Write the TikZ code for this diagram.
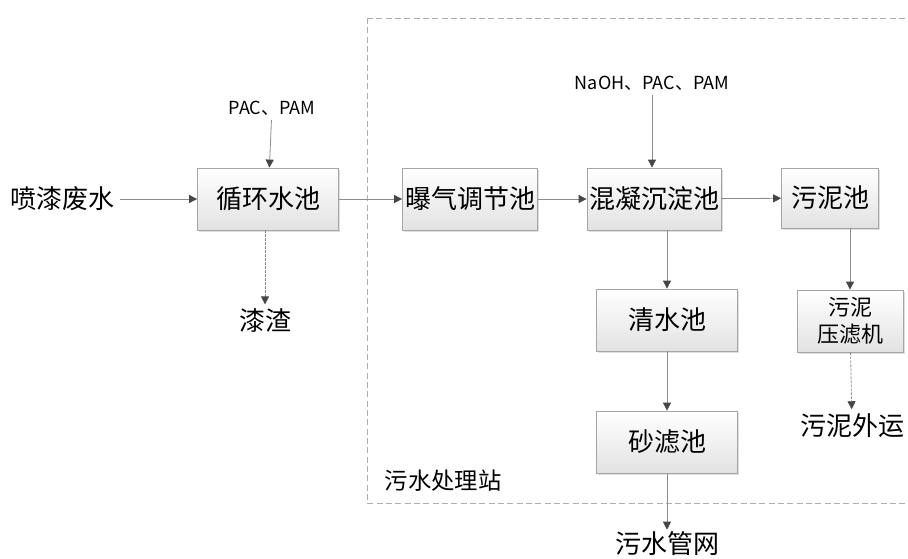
\documentclass[tikz,border=0pt]{standalone}
\usepackage{fontspec}
\setmainfont{Noto Sans CJK SC}
\usetikzlibrary{arrows.meta,shadows}

\definecolor{boxline}{RGB}{165,165,165}
\definecolor{boxbottom}{RGB}{226,226,226}
\definecolor{flowline}{RGB}{140,140,140}
\definecolor{tipgray}{RGB}{70,70,70}
\definecolor{framegray}{RGB}{175,175,175}

\tikzset{
	pool/.style={draw=boxline, line width=0.6pt, top color=white, bottom color=boxbottom,
		drop shadow={shadow xshift=1.2pt, shadow yshift=-1.2pt, opacity=0.25},
		minimum height=46.5pt, inner sep=0pt, font=\fontsize{19.5}{22}\selectfont},
	label/.style={font=\fontsize{19.5}{22}\selectfont},
	dose/.style={font=\fontsize{13.5}{16}\selectfont},
	flow/.style={draw=flowline, line width=0.6pt, -{Triangle[width=6pt,length=6pt,color=tipgray]}},
	waste/.style={flow, dash pattern={on 2pt off 1pt}}
}

\begin{document}
\begin{tikzpicture}[x=0.75pt,y=0.75pt,yscale=-1,xscale=1]
	\useasboundingbox (0,0) rectangle (908,558);

	%Shape: Rectangle [frame]
	\draw [framegray, line width=0.6pt, dash pattern={on 4.5pt off 2.5pt}] (367,18) -- (920,18) (367,18) -- (367,503) -- (920,503) ;

	% Pools
	\node [pool, minimum width=105.75pt] (xhsc) at (268,199) {循环水池};
	\node [pool, minimum width=101.25pt] (bqtj) at (470,199) {曝气调节池};
	\node [pool, minimum width=100.5pt] (hnck) at (654,199) {混凝沉淀池};
	\node [pool, minimum width=72.75pt, minimum height=45pt] (wnc) at (830,198) {污泥池};
	\node [pool, minimum width=105.75pt] (qsc) at (667,320) {清水池};
	\node [pool, minimum width=105.75pt] (slc) at (667,442) {砂滤池};
	\node [pool, minimum width=79.5pt, align=center, font=\fontsize{16.5}{20}\selectfont] (ylj) at (850,321) {污泥\\压滤机};

	% Text Node
	\node [label] (pqfs) at (63,199) {喷漆废水};
	\node [dose] (pac) at (272,108) {PAC、PAM};
	\node [label] (qz) at (265,321) {漆渣};
	\node [dose] (naoh) at (652,83) {NaOH、PAC、PAM};
	\node [label] (wnwy) at (852,426) {污泥外运};
	\node [label, inner sep=1.5pt] (wsgw) at (667,544) {污水管网};
	\node [font=\fontsize{17.5}{20}\selectfont, anchor=west] (zhan) at (380,481) {污水处理站};

	%Straight Lines
	\draw [flow] (pqfs) -- (xhsc);
	\draw [flow] (pac) -- (xhsc);
	\draw [waste] (xhsc.south -| qz.north) -- (qz.north);
	\draw [flow] (xhsc) -- (bqtj);
	\draw [flow] (bqtj) -- (hnck);
	\draw [flow] (naoh.south) -- (naoh.south |- hnck.north);
	\draw [flow] (hnck) -- (wnc);
	\draw [flow] (hnck.south -| qsc.north) -- (qsc.north);
	\draw [flow] (qsc) -- (slc);
	\draw [flow] (slc) -- (wsgw);
	\draw [flow] (wnc.south -| ylj.north) -- (ylj.north);
	\draw [waste] (ylj) -- (wnwy);
\end{tikzpicture}
\end{document}
